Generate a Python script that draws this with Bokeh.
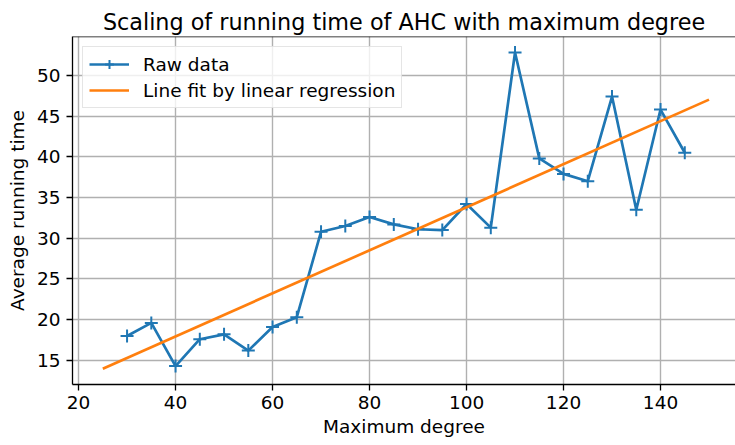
from bokeh.plotting import figure
from bokeh.models import Range1d, FixedTicker, Span, Legend, LegendItem
from bokeh.embed import file_html
from bokeh.resources import INLINE

degree = [30, 35, 40, 45, 50, 55, 60, 65, 70, 75, 80, 85, 90, 95, 100, 105,
          110, 115, 120, 125, 130, 135, 140, 145]
avg_time = [18.0, 19.6, 14.3, 17.6, 18.2, 16.2, 19.1, 20.3, 30.8, 31.5, 32.6,
            31.7, 31.1, 31.0, 34.2, 31.3, 52.8, 39.8, 37.9, 37.0, 47.4, 33.5,
            45.8, 40.5]
fit_x = [25, 150]
fit_y = [13.98, 47.02]
x_ticks = [20, 40, 60, 80, 100, 120, 140]
y_ticks = [15, 20, 25, 30, 35, 40, 45, 50]

FONT = "DejaVu Sans"
FS = "18.5px"

p = figure(width=735, height=445, output_backend="svg", toolbar_location=None,
           x_range=Range1d(18.75, 155.46), y_range=Range1d(12.04, 54.77),
           min_border_left=72, min_border_right=0, min_border_top=36,
           min_border_bottom=61)

p.title.text = "Scaling of running time of AHC with maximum degree"
p.title.align = "center"
p.title.text_font = FONT
p.title.text_font_size = "22.3px"
p.title.text_font_style = "normal"
p.title.text_color = "black"
p.title.standoff = 4

p.outline_line_color = None
p.background_fill_color = "white"
p.border_fill_color = "white"

for ax in (p.xaxis[0], p.yaxis[0]):
    ax.axis_line_color = "black"
    ax.axis_line_width = 1.3
    ax.major_tick_in = 0
    ax.major_tick_out = 6
    ax.major_tick_line_width = 1.3
    ax.minor_tick_line_color = None
    ax.major_label_text_font = FONT
    ax.major_label_text_font_size = FS
    ax.major_label_text_color = "black"
    ax.axis_label_text_font = FONT
    ax.axis_label_text_font_size = FS
    ax.axis_label_text_font_style = "normal"
    ax.axis_label_text_color = "black"

p.xaxis.ticker = FixedTicker(ticks=x_ticks)
p.yaxis.ticker = FixedTicker(ticks=y_ticks)
p.xaxis.axis_label = "Maximum degree"
p.yaxis.axis_label = "Average running time"
p.xaxis.major_label_standoff = 5
p.yaxis.major_label_standoff = 6
p.xaxis.axis_label_standoff = 4
p.yaxis.axis_label_standoff = 6

p.xgrid.ticker = FixedTicker(ticks=x_ticks)
p.ygrid.ticker = FixedTicker(ticks=y_ticks)
p.grid.grid_line_color = "#b0b0b0"
p.grid.grid_line_width = 1.4

top_line = Span(location=54.77, dimension="width", line_color="black", line_width=1.6)
p.add_layout(top_line)

raw_line = p.line(degree, avg_time, line_color="#1f77b4", line_width=2.7)
raw_pts = p.scatter(degree, avg_time, marker="cross", size=13, line_color="#1f77b4",
                    line_width=2.0)
fit_line = p.line(fit_x, fit_y, line_color="#ff7f0e", line_width=2.7)

legend = Legend(items=[
    LegendItem(label="Raw data", renderers=[raw_line, raw_pts]),
    LegendItem(label="Line fit by linear regression", renderers=[fit_line]),
], location="top_left")
legend.margin = 10
legend.padding = 6
legend.spacing = 4
legend.label_height = 22
legend.glyph_height = 22
legend.glyph_width = 40
legend.label_standoff = 14
legend.label_text_font = FONT
legend.label_text_font_size = FS
legend.label_text_color = "black"
legend.border_line_color = "#cccccc"
legend.border_line_width = 1.3
legend.background_fill_alpha = 0.8
p.add_layout(legend)

open("out.html", "w").write(file_html(p, INLINE))
